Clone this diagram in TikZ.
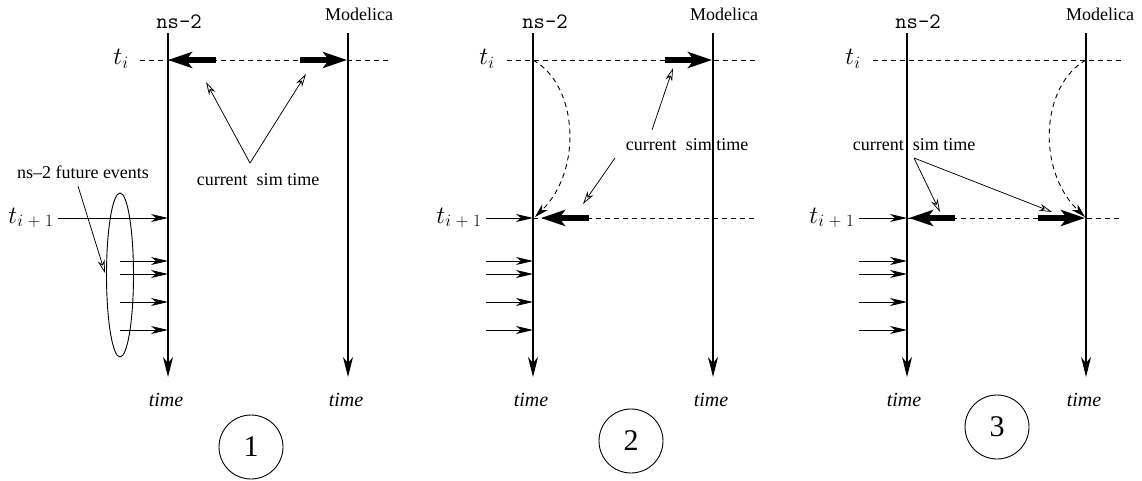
\documentclass[tikz,border=0pt]{standalone}
\usepackage[no-math]{fontspec}
\setmainfont{Liberation Serif}
\DeclareMathSizes{24}{24}{16}{12}
\newcommand{\tnext}{t_{i\mskip5mu+\mskip5mu1}}
\usetikzlibrary{arrows.meta,shapes.geometric}
\begin{document}
\begin{tikzpicture}[x=1pt,y=-1pt,
  vline/.style={line width=1.1pt,-{Stealth[length=20pt,width=10pt,inset=6pt]}},
  evt/.style={line width=0.9pt,-{Stealth[length=17pt,width=8pt,inset=5pt]}},
  bigarrow/.style={line width=5.5pt,-{Stealth[length=24pt,width=16pt,inset=6pt]}},
  ptr/.style={line width=0.75pt,-{Stealth[open,length=13pt,width=7pt,inset=4pt]}},
  dline/.style={line width=0.9pt,dash pattern=on 5pt off 4pt},
  carrow/.style={line width=0.9pt,dash pattern=on 5pt off 4pt,-{Stealth[length=14pt,width=8pt,inset=4pt]}},
  lbl/.style={font=\fontsize{18}{21}\selectfont,inner sep=0pt},
  tlbl/.style={font=\fontsize{20}{24}\selectfont\itshape,inner sep=0pt},
  mlbl/.style={font=\fontsize{24}{28}\selectfont,inner sep=0pt,anchor=base},
  ttlbl/.style={font=\fontsize{22}{24}\selectfont\ttfamily,inner sep=0pt},
  circ/.style={circle,draw,line width=0.9pt,minimum size=64pt,inner sep=0pt,font=\fontsize{30}{32}\selectfont},
  ell/.style={ellipse,draw,line width=0.9pt,minimum width=27pt,minimum height=164pt,inner sep=0pt}
]
\useasboundingbox (0,0) rectangle (1142,481);

% ---------------- Panel 1 ----------------
\begin{scope}[xshift=168pt]
  \coordinate (a-nstop) at (0,33);   \coordinate (a-nsbot) at (0,377);
  \coordinate (a-motop) at (180,33); \coordinate (a-mobot) at (180,377);
  \node[ttlbl] (a-nslab) at (11,22) {ns-2};
  \node[lbl] (a-molab) at (191,14) {Modelica};
  \node[mlbl] (a-ti) at (-47,65) {$t_i$};
  \node[mlbl] (a-ti1) at (-137,223) {$\tnext$};
  \node[tlbl] (a-time1) at (-2,400) {time};
  \node[tlbl] (a-time2) at (178,400) {time};
  \node[circ] (a-circ) at (83,447) {1};
  % dashed t_i line
  \coordinate (a-til) at (-28,60); \coordinate (a-tir) at (220,60);
  \draw[dline] (a-til) -- (a-tir);
  % time axes
  \draw[vline] (a-nstop) -- (a-nsbot);
  \draw[vline] (a-motop) -- (a-mobot);
  % thick arrows
  \coordinate (a-nsti) at (0,60); \coordinate (a-moti) at (179,60);
  \coordinate (a-th1) at (48,60); \coordinate (a-th2) at (132,60);
  \draw[bigarrow] (a-th1) -- (a-nsti);
  \draw[bigarrow] (a-th2) -- (a-moti);
  % t_{i+1} arrow
  \coordinate (a-t1s) at (-110,218); \coordinate (a-nst1) at (0,218);
  \draw[evt] (a-t1s) -- (a-nst1);
  % future events
  \foreach \k/\y in {1/261,2/274,3/302,4/330}{
    \coordinate (a-e\k s) at (-48,\y); \coordinate (a-e\k) at (0,\y);
    \draw[evt] (a-e\k s) -- (a-e\k);
  }
  \node[ell] (a-ell) at (-48,275) {};
  \node[lbl] (a-fe) at (-85,172) {ns–2 future events};
  \coordinate (a-fes) at (-90,186); \coordinate (a-fee) at (-63,273);
  \draw[ptr] (a-fes) -- (a-fee);
  % current sim time
  \node[lbl] (a-cst) at (90,180) {current\ \ sim time};
  \coordinate (a-apex) at (82,163);
  \coordinate (a-p1) at (38,82); \coordinate (a-p2) at (138,74);
  \draw[ptr] (a-apex) -- (a-p1);
  \draw[ptr] (a-apex) -- (a-p2);
\end{scope}

% ---------------- Panel 2 ----------------
\begin{scope}[xshift=533pt]
  \coordinate (b-nstop) at (0,33);   \coordinate (b-nsbot) at (0,377);
  \coordinate (b-motop) at (180,33); \coordinate (b-mobot) at (180,377);
  \node[ttlbl] (b-nslab) at (12,22) {ns-2};
  \node[lbl] (b-molab) at (191,14) {Modelica};
  \node[mlbl] (b-ti) at (-46,65) {$t_i$};
  \node[mlbl] (b-ti1) at (-74,223) {$\tnext$};
  \node[tlbl] (b-time1) at (-2,400) {time};
  \node[tlbl] (b-time2) at (178,400) {time};
  \node[circ] (b-circ) at (98,441) {2};
  \coordinate (b-til) at (-26,60); \coordinate (b-tir) at (222,60);
  \draw[dline] (b-til) -- (b-tir);
  \coordinate (b-t1l) at (0,218); \coordinate (b-t1r) at (222,218);
  \draw[dline] (b-t1l) -- (b-t1r);
  \draw[vline] (b-nstop) -- (b-nsbot);
  \draw[vline] (b-motop) -- (b-mobot);
  \coordinate (b-moti) at (179,60); \coordinate (b-th2) at (132,60);
  \draw[bigarrow] (b-th2) -- (b-moti);
  \coordinate (b-th1) at (56,218); \coordinate (b-th1e) at (8,218);
  \draw[bigarrow] (b-th1) -- (b-th1e);
  \coordinate (b-t1s) at (-47,218); \coordinate (b-nst1) at (0,218);
  \draw[evt] (b-t1s) -- (b-nst1);
  \foreach \k/\y in {1/261,2/274,3/302,4/330}{
    \coordinate (b-e\k s) at (-47,\y); \coordinate (b-e\k) at (0,\y);
    \draw[evt] (b-e\k s) -- (b-e\k);
  }
  \coordinate (b-cs) at (0,60); \coordinate (b-ce) at (2,217);
  \draw[carrow] (b-cs) .. controls (45,85) and (50,170) .. (b-ce);
  \node[lbl] (b-cst) at (154,145) {current\ \ sim time};
  \coordinate (b-q1s) at (119,130); \coordinate (b-q1) at (140,68);
  \coordinate (b-q2s) at (82,158);  \coordinate (b-q2) at (50,204);
  \draw[ptr] (b-q1s) -- (b-q1);
  \draw[ptr] (b-q2s) -- (b-q2);
\end{scope}

% ---------------- Panel 3 ----------------
\begin{scope}[xshift=907pt]
  \coordinate (c-nstop) at (0,33);   \coordinate (c-nsbot) at (0,377);
  \coordinate (c-motop) at (179,33); \coordinate (c-mobot) at (179,377);
  \node[ttlbl] (c-nslab) at (11,22) {ns-2};
  \node[lbl] (c-molab) at (193,14) {Modelica};
  \node[mlbl] (c-ti) at (-54,65) {$t_i$};
  \node[mlbl] (c-ti1) at (-75,223) {$\tnext$};
  \node[tlbl] (c-time1) at (-3,400) {time};
  \node[tlbl] (c-time2) at (177,400) {time};
  \node[circ] (c-circ) at (90,427) {3};
  \coordinate (c-til) at (-34,60); \coordinate (c-tir) at (215,60);
  \draw[dline] (c-til) -- (c-tir);
  \coordinate (c-t1l) at (0,218); \coordinate (c-t1r) at (215,218);
  \draw[dline] (c-t1l) -- (c-t1r);
  \draw[vline] (c-nstop) -- (c-nsbot);
  \draw[vline] (c-motop) -- (c-mobot);
  \coordinate (c-th1) at (48,218); \coordinate (c-th1e) at (2,218);
  \coordinate (c-th2) at (131,218); \coordinate (c-th2e) at (178,218);
  \draw[bigarrow] (c-th1) -- (c-th1e);
  \draw[bigarrow] (c-th2) -- (c-th2e);
  \coordinate (c-t1s) at (-48,218); \coordinate (c-nst1) at (0,218);
  \draw[evt] (c-t1s) -- (c-nst1);
  \foreach \k/\y in {1/261,2/274,3/302,4/330}{
    \coordinate (c-e\k s) at (-48,\y); \coordinate (c-e\k) at (0,\y);
    \draw[evt] (c-e\k s) -- (c-e\k);
  }
  \coordinate (c-cs) at (179,60); \coordinate (c-ce) at (178,217);
  \draw[carrow] (c-cs) .. controls (134,85) and (129,170) .. (c-ce);
  \node[lbl] (c-cst) at (7,145) {current\ \ sim time};
  \coordinate (c-apex) at (7,158);
  \coordinate (c-q1) at (33,212); \coordinate (c-q2) at (145,212);
  \draw[ptr] (c-apex) -- (c-q1);
  \draw[ptr] (c-apex) -- (c-q2);
\end{scope}
\end{tikzpicture}
\end{document}
